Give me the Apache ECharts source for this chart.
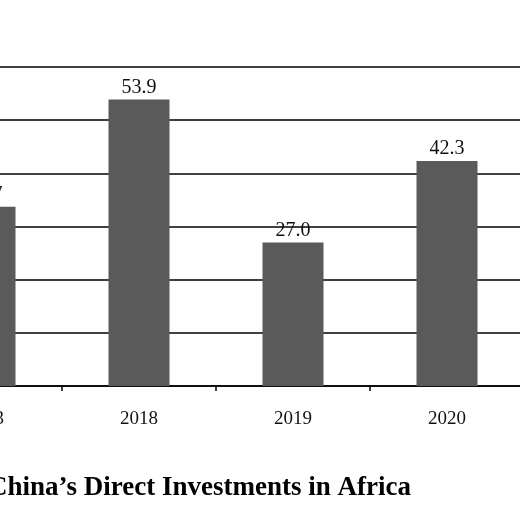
<!DOCTYPE html>
<html>
<head>
<meta charset="utf-8">
<script src="https://cdn.jsdelivr.net/npm/echarts@6/dist/echarts.min.js"></script>
<style>
  html, body { margin: 0; padding: 0; background: #fff; overflow: hidden; width: 520px; height: 520px; }
  /* 原图被裁切：画布比窗口宽，向左偏移 */
  #chart { position: absolute; left: -92px; top: 0; width: 616px; height: 520px; }
</style>
</head>
<body>
<div id="chart"></div>
<script>
// 数据
const years = ['2013', '2018', '2019', '2020']
const investments = [33.7, 53.9, 27.0, 42.3]
const yTicks = [0, 10, 20, 30, 40, 50, 60]

const serif = '"Liberation Serif", "Times New Roman", serif'

const chart = echarts.init(document.getElementById('chart'))

chart.setOption({
  backgroundColor: '#fff',
  animation: false,
  title: {
    text: 'China\u2019s Direct Investments in Africa',
    right: 108,
    top: 470,
    textStyle: {
      fontFamily: serif,
      fontSize: 27,
      fontWeight: 'bold',
      color: '#000',
    },
  },
  grid: {
    left: 0,
    right: 0,
    top: 67,
    height: 319,
  },
  xAxis: {
    type: 'category',
    data: years,
    axisLine: { lineStyle: { color: '#000', width: 1.5 } },
    axisTick: { show: true, length: 5, lineStyle: { color: '#000', width: 1.5 } },
    axisLabel: {
      margin: 24,
      fontFamily: serif,
      fontSize: 19,
      color: '#111',
    },
  },
  yAxis: {
    type: 'value',
    min: yTicks[0],
    max: yTicks[yTicks.length - 1],
    interval: 10,
    axisLine: { show: false },
    axisTick: { show: false },
    axisLabel: { show: false },
    splitLine: { lineStyle: { color: '#000', width: 1.5 } },
  },
  series: [
    {
      type: 'bar',
      data: investments,
      barWidth: 61,
      itemStyle: { color: '#5a5a5a' },
      label: {
        show: true,
        position: 'top',
        distance: 2,
        fontFamily: serif,
        fontSize: 20,
        color: '#111',
        formatter: p => p.value.toFixed(1),
      },
    },
  ],
})
</script>
</body>
</html>
